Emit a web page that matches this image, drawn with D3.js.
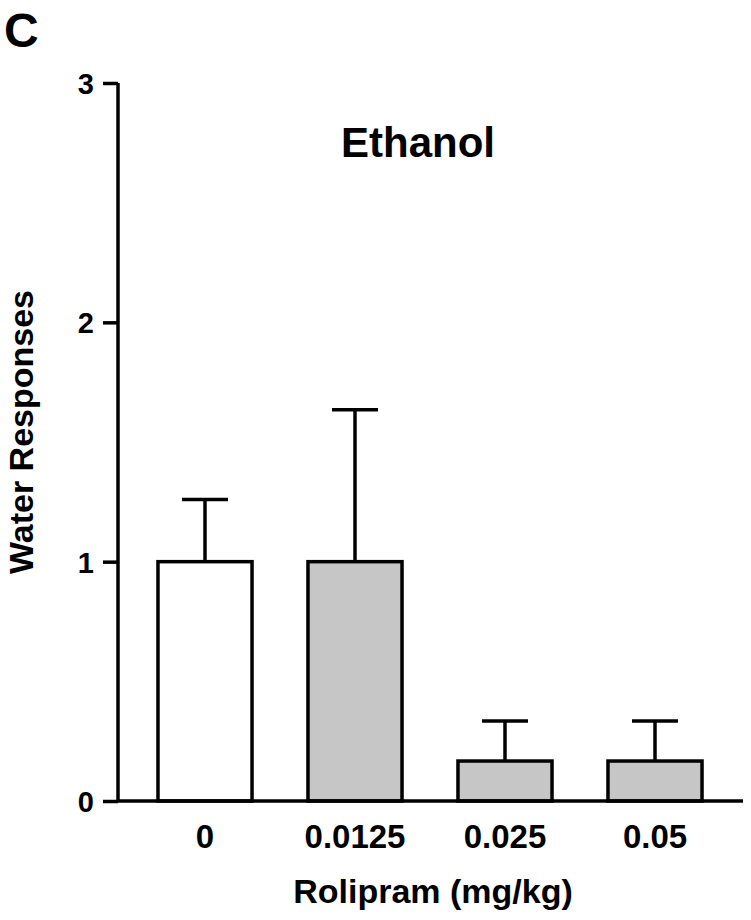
<!DOCTYPE html>
<meta charset="utf-8">
<style>
body{
  margin: 0;
  background-color: white;
}
text{
  font-family: "Liberation Sans", Arial, sans-serif;
  font-weight: bold;
  fill: black;
}
</style>
<body>
<svg class="chart"></svg>
<script src="https://d3js.org/d3.v7.min.js"></script>
<script>
// data
var doses = ["0", "0.0125", "0.025", "0.05"];
var means = [1.0, 1.0, 0.167, 0.167];
var sems = [0.26, 0.635, 0.167, 0.167];
var fills = ["#ffffff", "#c6c6c6", "#c6c6c6", "#c6c6c6"];
var yTicks = [0, 1, 2, 3];

var data = doses.map(function (d, i) {
  return {dose: d, mean: means[i], sem: sems[i], fill: fills[i]};
});

var w = 751, h = 920;
var svg = d3.select('svg').attr('width', w).attr('height', h);

var x = d3.scaleBand()
  .domain(doses)
  .range([130, 730])
  .paddingInner(0.373)
  .paddingOuter(0.1865);

var y = d3.scaleLinear()
  .domain([0, 3])
  .range([801, 83]);

// bars
svg.selectAll("rect.bar")
  .data(data)
  .enter()
  .append("rect")
  .attr("class", "bar")
  .attr("x", function (d) { return x(d.dose); })
  .attr("y", function (d) { return y(d.mean); })
  .attr("width", x.bandwidth())
  .attr("height", function (d) { return y(0) - y(d.mean); })
  .attr("fill", function (d) { return d.fill; })
  .attr("stroke", "black")
  .attr("stroke-width", 3.5);

// error bars (upper only)
var capW = 46;
var err = svg.selectAll("g.err")
  .data(data)
  .enter()
  .append("g")
  .attr("class", "err")
  .attr("stroke", "black")
  .attr("stroke-width", 3.5);

err.append("line")
  .attr("x1", function (d) { return x(d.dose) + x.bandwidth() / 2; })
  .attr("x2", function (d) { return x(d.dose) + x.bandwidth() / 2; })
  .attr("y1", function (d) { return y(d.mean); })
  .attr("y2", function (d) { return y(d.mean + d.sem); });

err.append("line")
  .attr("x1", function (d) { return x(d.dose) + x.bandwidth() / 2 - capW / 2; })
  .attr("x2", function (d) { return x(d.dose) + x.bandwidth() / 2 + capW / 2; })
  .attr("y1", function (d) { return y(d.mean + d.sem); })
  .attr("y2", function (d) { return y(d.mean + d.sem); });

// y axis
var yAxis = svg.append("g")
  .attr("transform", "translate(118,0)")
  .call(d3.axisLeft(y).tickValues(yTicks).tickFormat(d3.format("d")).tickSize(15).tickPadding(9));
yAxis.select(".domain")
  .attr("d", "M0," + y(3) + "V" + y(0))
  .attr("stroke-width", 3.5);
yAxis.selectAll(".tick line").attr("stroke-width", 3.5);
yAxis.selectAll(".tick text")
  .attr("font-size", "29px")
  .attr("font-family", "Liberation Sans, Arial, sans-serif")
  .attr("font-weight", "bold")
  .attr("dy", "0.36em");

// x axis (baseline, no ticks)
var xAxis = svg.append("g")
  .attr("transform", "translate(0," + y(0) + ")")
  .call(d3.axisBottom(x).tickSize(0).tickPadding(24));
xAxis.select(".domain")
  .attr("d", "M118,0H743")
  .attr("stroke-width", 3.5);
xAxis.selectAll(".tick text")
  .attr("font-size", "33px")
  .attr("font-family", "Liberation Sans, Arial, sans-serif")
  .attr("font-weight", "bold")
  .attr("dy", "0.71em");

// labels
svg.append("text")
  .attr("x", 433)
  .attr("y", 903)
  .attr("text-anchor", "middle")
  .attr("font-size", "34px")
  .text("Rolipram (mg/kg)");

svg.append("text")
  .attr("transform", "translate(33,432) rotate(-90)")
  .attr("text-anchor", "middle")
  .attr("font-size", "34px")
  .text("Water Responses");

svg.append("text")
  .attr("x", 418)
  .attr("y", 157)
  .attr("text-anchor", "middle")
  .attr("font-size", "42px")
  .text("Ethanol");

svg.append("text")
  .attr("x", 4)
  .attr("y", 47)
  .attr("font-size", "48px")
  .text("C");
</script>
</body>
</html>
